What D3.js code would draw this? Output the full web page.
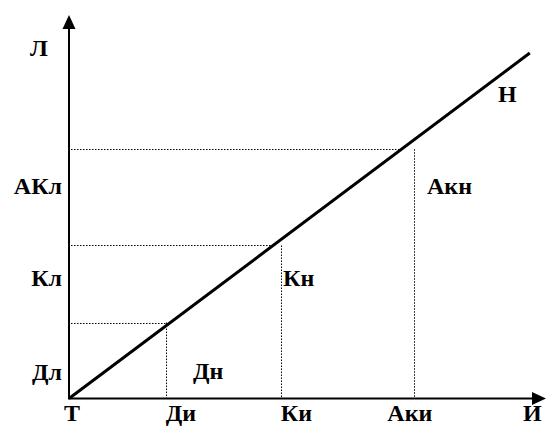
<!DOCTYPE html>
<html lang="ru">
<head>
<meta charset="utf-8">
<title>Т-Н</title>
<script src="https://d3js.org/d3.v7.min.js"></script>
<style>
  body { margin: 0; background: #fff; }
</style>
</head>
<body>
<script>
// chart size
var w = 547;
var h = 427;

// levels: x value, y value, x label, y label, region label
var xNames = ["Ди", "Ки", "Аки"];
var xValues = [20.3, 44.4, 72.4];
var yNames = ["Дл", "Кл", "АКл"];
var yValues = [19.8, 39.9, 65.0];
var regionNames = ["Дн", "Кн", "Акн"];

// the straight line from the origin
var lineX = [0, 96.6];
var lineY = [0, 90.1];

var svg = d3.select("body").append("svg")
  .attr("width", w)
  .attr("height", h);

var x = d3.scaleLinear().domain([0, 100]).range([69, 546]);
var y = d3.scaleLinear().domain([0, 100]).range([398.5, 15]);

var slope = (lineY[1] - lineY[0]) / (lineX[1] - lineX[0]);

// dotted guides
var guides = svg.append("g")
  .attr("stroke", "#000")
  .attr("stroke-width", 1)
  .attr("stroke-dasharray", "1.5,1.5");

guides.selectAll("line.h")
  .data(yValues)
  .enter().append("line")
  .attr("class", "h")
  .attr("x1", x(0) + 2)
  .attr("x2", function(d, i) { return Math.min(x(xValues[i]), x(d / slope)); })
  .attr("y1", function(d) { return Math.round(y(d)) + 0.5; })
  .attr("y2", function(d) { return Math.round(y(d)) + 0.5; });

guides.selectAll("line.v")
  .data(xValues)
  .enter().append("line")
  .attr("class", "v")
  .attr("x1", function(d) { return Math.round(x(d)) + 0.5; })
  .attr("x2", function(d) { return Math.round(x(d)) + 0.5; })
  .attr("y1", function(d, i) { return y(yValues[i]); })
  .attr("y2", y(0));

// axes with arrows
svg.append("line")
  .attr("x1", x(0)).attr("y1", y(0))
  .attr("x2", x(0)).attr("y2", 27)
  .attr("stroke", "#000").attr("stroke-width", 2);
svg.append("path")
  .attr("d", "M" + x(0) + ",15 L" + (x(0) - 6.5) + ",29 L" + (x(0) + 6.5) + ",29 Z")
  .attr("fill", "#000");

svg.append("line")
  .attr("x1", x(0) - 1).attr("y1", y(0))
  .attr("x2", 535).attr("y2", y(0))
  .attr("stroke", "#000").attr("stroke-width", 2);
svg.append("path")
  .attr("d", "M546," + y(0) + " L532," + (y(0) - 6.5) + " L532," + (y(0) + 6.5) + " Z")
  .attr("fill", "#000");

// main line
svg.append("line")
  .attr("x1", x(lineX[0])).attr("y1", y(lineY[0]))
  .attr("x2", x(lineX[1])).attr("y2", y(lineY[1]))
  .attr("stroke", "#000").attr("stroke-width", 3);

var labels = svg.append("g")
  .style("font-family", "'Liberation Serif', 'Times New Roman', serif")
  .style("font-weight", "bold")
  .style("font-size", "24px")
  .attr("fill", "#000");

// labels on x axis
labels.selectAll("text.xl")
  .data(xNames)
  .enter().append("text")
  .attr("class", "xl")
  .attr("x", function(d, i) { return x(xValues[i]) - (i == 2 ? 27 : 0); })
  .attr("y", 421)
  .text(function(d) { return d; });

// labels on y axis
labels.selectAll("text.yl")
  .data(yNames)
  .enter().append("text")
  .attr("class", "yl")
  .attr("text-anchor", "end")
  .attr("x", 62)
  .attr("y", function(d, i) { return [380, 286, 194][i]; })
  .text(function(d) { return d; });

// region labels
labels.selectAll("text.rl")
  .data(regionNames)
  .enter().append("text")
  .attr("class", "rl")
  .attr("x", function(d, i) { return [193, 283, 427][i]; })
  .attr("y", function(d, i) { return [379, 286, 194][i]; })
  .text(function(d) { return d; });

labels.append("text").attr("x", 64).attr("y", 421).text("Т");
labels.append("text").attr("x", 523).attr("y", 421).text("И");
labels.append("text").attr("x", 30).attr("y", 56).text("Л");
labels.append("text").attr("x", 498).attr("y", 102).text("Н");
</script>
</body>
</html>
